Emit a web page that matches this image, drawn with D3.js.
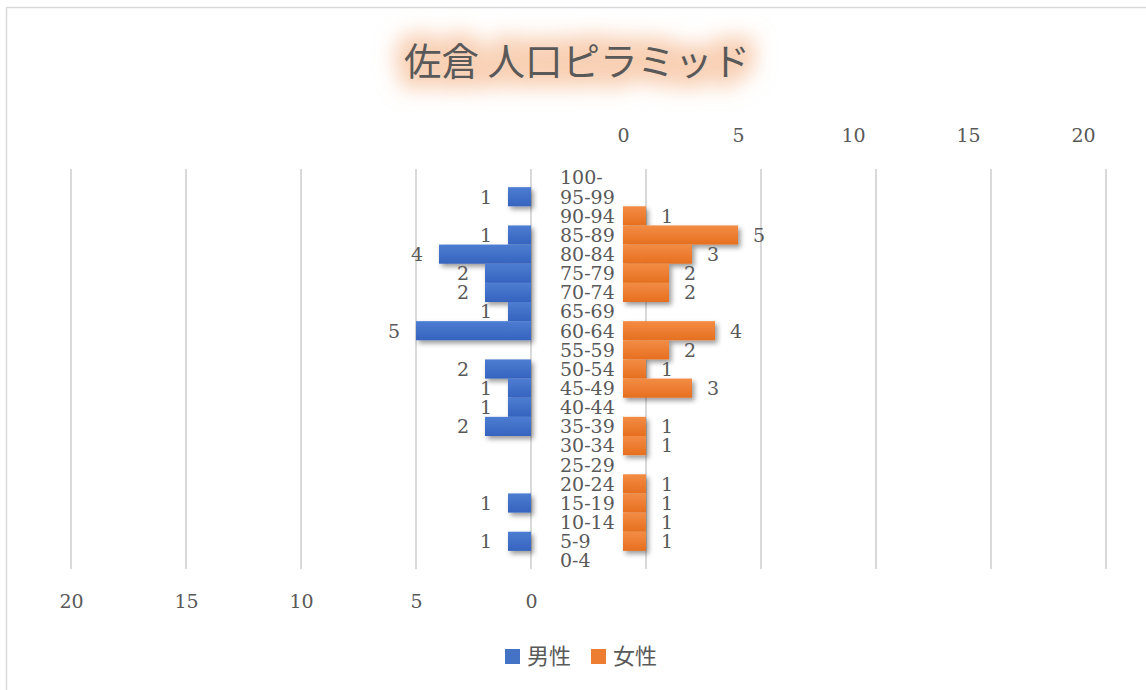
<!DOCTYPE html>
<html><head><meta charset="utf-8">
<script src="https://cdn.jsdelivr.net/npm/d3@7"></script>
<style>
html,body{margin:0;padding:0;background:#fff;}
svg{display:block;}
</style></head>
<body>
<svg id="chart" width="1146" height="690"></svg>
<script>
const title = "佐倉 人口ピラミッド";
const categories = ["100-","95-99","90-94","85-89","80-84","75-79","70-74","65-69","60-64","55-59","50-54","45-49","40-44","35-39","30-34","25-29","20-24","15-19","10-14","5-9","0-4"];
const maleValues   = [0,1,0,1,4,2,2,1,5,0,2,1,1,2,0,0,0,1,0,1,0];
const femaleValues = [0,0,1,5,3,2,2,0,4,2,1,3,0,1,1,0,1,1,1,1,0];
const axisTicks = [0,5,10,15,20];
const seriesNames = ["男性","女性"];
const colors = {male:"#4472C4", female:"#ED7D31"};

const svg = d3.select("#chart");
const defs = svg.append("defs");

function grad(id, top, bottom){
  const g = defs.append("linearGradient").attr("id", id).attr("x1",0).attr("y1",0).attr("x2",0).attr("y2",1);
  g.append("stop").attr("offset","0%").attr("stop-color",top);
  g.append("stop").attr("offset","100%").attr("stop-color",bottom);
}
grad("gMale", "#4d7dd2", "#3563be");
grad("gFemale", "#f38c45", "#e66f1f");

const sh = defs.append("filter").attr("id","shadow").attr("x","-20%").attr("y","-20%").attr("width","150%").attr("height","170%");
sh.append("feDropShadow").attr("dx",2.5).attr("dy",3).attr("stdDeviation",2.5).attr("flood-color","#000").attr("flood-opacity",0.4);

const glow = defs.append("filter").attr("id","glow").attr("x","-20%").attr("y","-100%").attr("width","140%").attr("height","300%");
glow.append("feMorphology").attr("in","SourceAlpha").attr("operator","dilate").attr("radius",10).attr("result","d");
glow.append("feGaussianBlur").attr("in","d").attr("stdDeviation",10).attr("result","b");
glow.append("feFlood").attr("flood-color","#f4b183").attr("flood-opacity",0.6).attr("result","c");
glow.append("feComposite").attr("in","c").attr("in2","b").attr("operator","in");

// border
svg.append("rect").attr("x",6.5).attr("y",7.5).attr("width",1160).attr("height",700)
  .attr("fill","none").attr("stroke","#d9d9d9").attr("stroke-width",1.5);

// title
const tg = svg.append("g");
tg.append("text").attr("x",577).attr("y",75).attr("text-anchor","middle")
  .attr("font-family","'Noto Sans CJK JP'").attr("font-size",37.5)
  .attr("fill","#000").attr("filter","url(#glow)").text(title);
tg.append("text").attr("x",577).attr("y",75).attr("text-anchor","middle")
  .attr("font-family","'Noto Sans CJK JP'").attr("font-size",37.5)
  .attr("fill","#595959").text(title);

// scales
const plotTop = 168, plotBottom = 570;
const y = d3.scaleBand().domain(categories).range([plotTop, plotBottom]).padding(0);
const maleX = d3.scaleLinear().domain([0,20]).range([531,71]);
const femaleX = d3.scaleLinear().domain([0,20]).range([623,1083]);
const gridX = d3.scaleLinear().domain([0,20]).range([646,1106]);

// gridlines
const grid = svg.append("g").attr("stroke","#d9d9d9").attr("stroke-width",2);
grid.selectAll("line.l").data(axisTicks).join("line").attr("class","l")
  .attr("x1",d=>maleX(d)).attr("x2",d=>maleX(d)).attr("y1",169).attr("y2",plotBottom-1);
grid.selectAll("line.r").data(axisTicks).join("line").attr("class","r")
  .attr("x1",d=>gridX(d)).attr("x2",d=>gridX(d)).attr("y1",169).attr("y2",plotBottom-1);

const serif = "'DejaVu Serif', serif";
const txtColor = "#595959";

// axes (labels only)
const bottomAxis = svg.append("g").attr("transform",`translate(0,${plotBottom})`)
  .call(d3.axisBottom(maleX).tickValues(axisTicks).tickSize(0).tickFormat(d3.format("d")));
bottomAxis.select(".domain").remove();
bottomAxis.selectAll("text").attr("y",38).attr("dy",0).attr("font-family",serif).attr("font-size",19).attr("fill",txtColor);

const topAxis = svg.append("g").attr("transform",`translate(0,${plotTop})`)
  .call(d3.axisTop(femaleX).tickValues(axisTicks).tickSize(0).tickFormat(d3.format("d")));
topAxis.select(".domain").remove();
topAxis.selectAll("text").attr("y",-26).attr("dy",0).attr("font-family",serif).attr("font-size",19).attr("fill",txtColor);

// bars
const maleData = categories.map((c,i)=>({c, v:maleValues[i]}));
const femaleData = categories.map((c,i)=>({c, v:femaleValues[i]}));

svg.append("g").attr("filter","url(#shadow)").selectAll("rect").data(maleData.filter(d=>d.v>0)).join("rect")
  .attr("x",d=>maleX(d.v)).attr("y",d=>y(d.c)).attr("width",d=>maleX(0)-maleX(d.v)).attr("height",y.bandwidth())
  .attr("fill","url(#gMale)");
svg.append("g").attr("filter","url(#shadow)").selectAll("rect").data(femaleData.filter(d=>d.v>0)).join("rect")
  .attr("x",femaleX(0)).attr("y",d=>y(d.c)).attr("width",d=>femaleX(d.v)-femaleX(0)).attr("height",y.bandwidth())
  .attr("fill","url(#gFemale)");

// category labels
svg.append("g").selectAll("text").data(categories).join("text")
  .attr("x",560).attr("y",d=>y(d)+y.bandwidth()/2).attr("dy","0.36em")
  .attr("font-family",serif).attr("font-size",19).attr("fill",txtColor).text(d=>d);

// data labels
svg.append("g").selectAll("text").data(maleData.filter(d=>d.v>0)).join("text")
  .attr("x",d=>maleX(d.v)-22).attr("y",d=>y(d.c)+y.bandwidth()/2).attr("dy","0.36em").attr("text-anchor","middle")
  .attr("font-family",serif).attr("font-size",19).attr("fill",txtColor).text(d=>d.v);
svg.append("g").selectAll("text").data(femaleData.filter(d=>d.v>0)).join("text")
  .attr("x",d=>femaleX(d.v)+21).attr("y",d=>y(d.c)+y.bandwidth()/2).attr("dy","0.36em").attr("text-anchor","middle")
  .attr("font-family",serif).attr("font-size",19).attr("fill",txtColor).text(d=>d.v);

// legend
const legend = svg.append("g");
const legendItems = [{n:seriesNames[0], c:colors.male, x:505},{n:seriesNames[1], c:colors.female, x:591}];
legend.selectAll("rect").data(legendItems).join("rect")
  .attr("x",d=>d.x).attr("y",649).attr("width",15).attr("height",15).attr("fill",d=>d.c);
legend.selectAll("text").data(legendItems).join("text")
  .attr("x",d=>d.x+22).attr("y",664).attr("font-family","'Noto Sans CJK JP'").attr("font-size",22)
  .attr("fill",txtColor).text(d=>d.n);
</script>
</body></html>
